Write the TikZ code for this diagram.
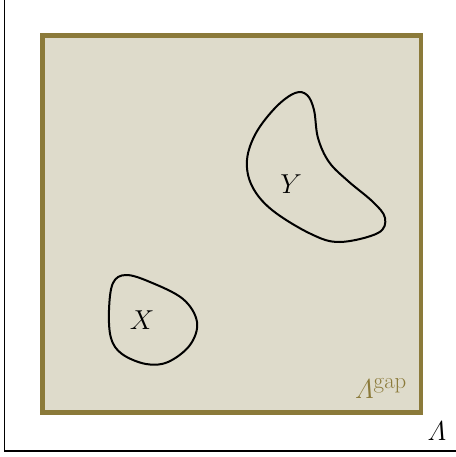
\documentclass[tikz,border=0pt]{standalone}
\usepackage{amsmath,amssymb}
\definecolor{gapfill}{HTML}{DEDBCB}
\definecolor{gapline}{HTML}{8B7A3A}

\begin{document}
\begin{tikzpicture}[x=1pt,y=-1pt]
\tikzset{
  frame/.style={draw=black,line width=1.7pt},
  gapregion/.style={draw=gapline,fill=gapfill,line width=4.5pt},
  blob/.style={draw=black,line width=2pt,line join=round},
  setlabel/.style={inner sep=0pt,font=\Huge,scale=1.1}
}
\useasboundingbox (0,0) rectangle (455,457);
% outer region
\draw[frame] (4.5,-20) rectangle (480,450.7);
% gap region
\draw[gapregion] (42.5,35.5) rectangle (421,412.5);
% the two sets
\draw[blob] plot[smooth cycle,tension=0.6] coordinates {
  (113,283) (126,275) (150,282) (183,299) (197,322) (190,345)
  (168,362) (146,364) (122,354) (111,338) (109,310)};
\draw[blob] plot[smooth cycle,tension=0.6] coordinates {
  (295,93) (307,95) (314,110) (318,138) (329,162) (348,181) (373,202)
  (385,218) (378,233) (340,242) (311,234) (272,210) (252,186)
  (247,160) (256,133) (276,107)};
\node[setlabel] (n_X) at (142,320) {$X$};
\node[setlabel] (n_Y) at (291,184) {$Y$};
\node[setlabel,text=gapline] (n_gap) at (381,389) {$\varLambda^{\mathrm{gap}}$};
\node[setlabel] (n_Lambda) at (437,431) {$\varLambda$};
\end{tikzpicture}
\end{document}
